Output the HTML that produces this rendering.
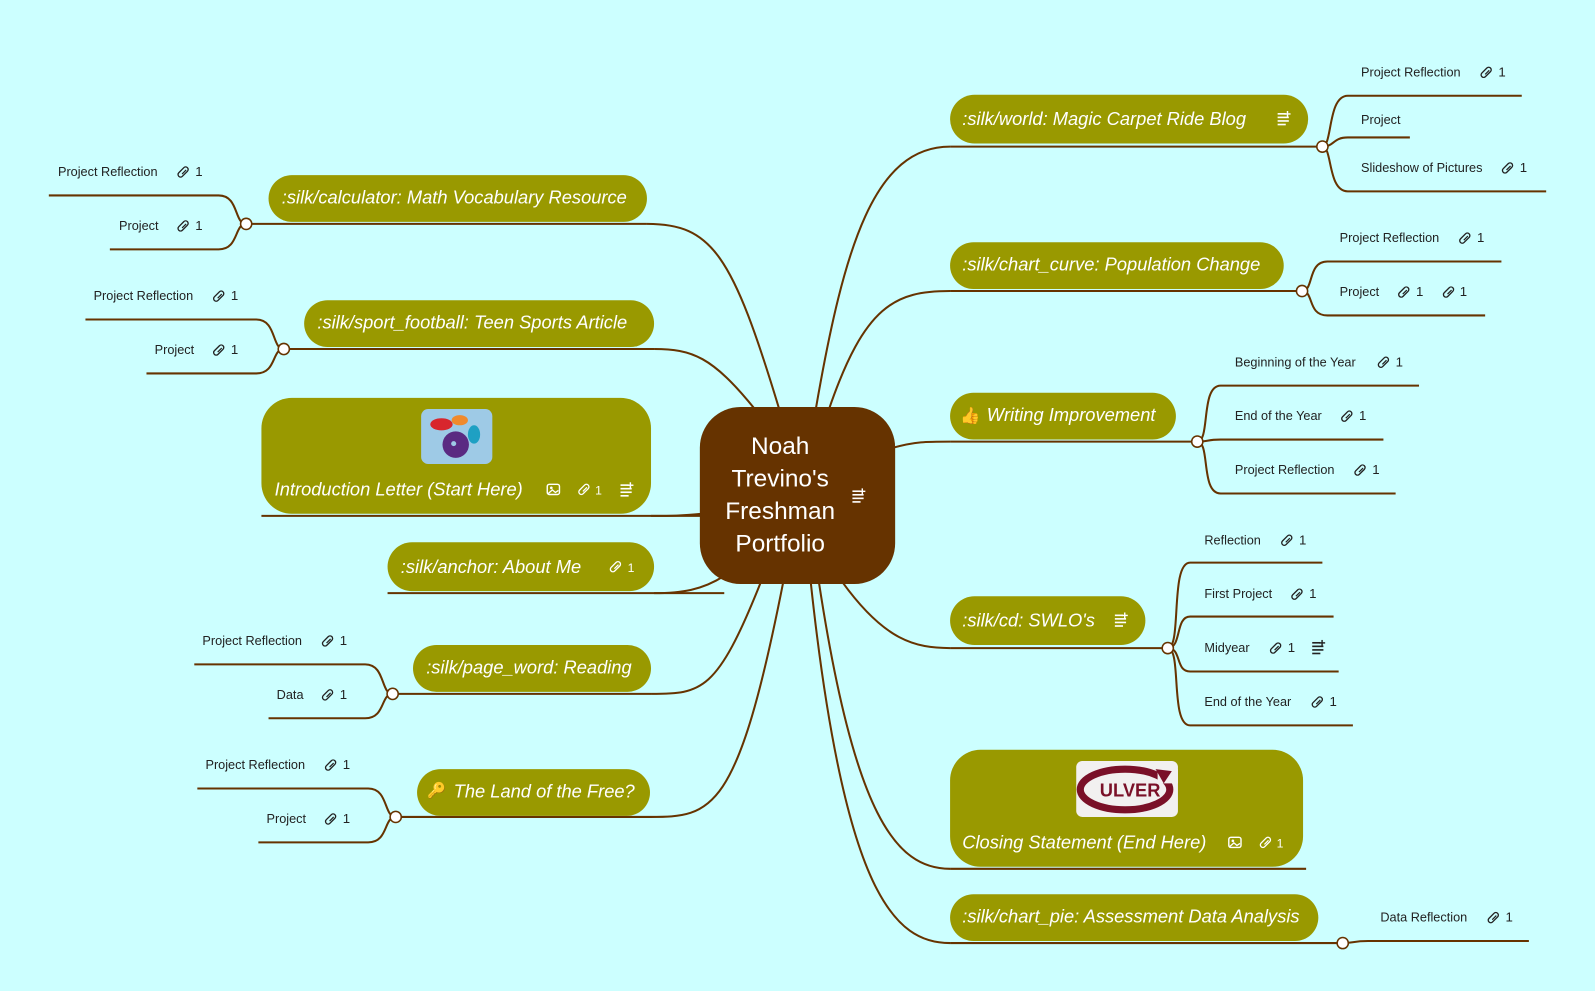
<!DOCTYPE html>
<html><head><meta charset="utf-8"><style>
html,body{margin:0;padding:0;background:#ccffff;}
svg{display:block}
.pt{font-family:"Liberation Sans",sans-serif;font-style:italic;font-size:18px;fill:#fff}
.ch{font-family:"Liberation Sans",sans-serif;font-size:12.5px;fill:#222}
.n{font-family:"Liberation Sans",sans-serif;font-size:13px;fill:#222}
.nw{font-family:"Liberation Sans",sans-serif;font-size:12px;fill:#fff}
.ln{stroke:#663300;stroke-width:2;fill:none}
.dot{fill:#fff;stroke:#663300;stroke-width:1.5}
</style></head><body>
<svg width="1595" height="991" viewBox="0 0 1568 974" xmlns="http://www.w3.org/2000/svg">
<defs>
<g id="clip"><rect x="-2.5" y="-6" width="5" height="12" rx="2.5" transform="rotate(45)" fill="none" stroke="#222" stroke-width="1.3"/><line x1="-1" y1="2" x2="3" y2="-2" stroke="#222" stroke-width="1.2"/></g>
<g id="clipw"><rect x="-2.5" y="-6" width="5" height="12" rx="2.5" transform="rotate(45)" fill="none" stroke="#fff" stroke-width="1.3"/><line x1="-1" y1="2" x2="3" y2="-2" stroke="#fff" stroke-width="1.2"/></g>
<g id="notes" fill="#fff"><rect x="0" y="0" width="8" height="1.6"/><rect x="0" y="3.5" width="11" height="1.6"/><rect x="0" y="7" width="11" height="1.6"/><rect x="0" y="10.5" width="8" height="1.6"/><rect x="9" y="-2" width="1.4" height="6"/><rect x="6.7" y="0.2" width="6" height="1.4"/></g>
<g id="imgi"><rect x="0" y="0" width="12" height="10" rx="2" fill="none" stroke="#fff" stroke-width="1.4"/><circle cx="4" cy="3.5" r="1.3" fill="#fff"/><path d="M1 9 L5 5.5 L8 8 L11 6" stroke="#fff" stroke-width="1.3" fill="none"/></g>
</defs>

<!-- center connectors -->
<path class="ln" d="M802,402 C830,240 860,144 934,144"/>
<path class="ln" d="M815,402 C850,300 880,286 934,286"/>
<path class="ln" d="M878,440 C900,434 910,434 934,434"/>
<path class="ln" d="M828,572 C870,630 900,637 934,637"/>
<path class="ln" d="M805,572 C840,800 880,854 934,854"/>
<path class="ln" d="M797,572 C830,880 880,927 934,927"/>
<path class="ln" d="M766,402 C720,250 700,220 636,220"/>
<path class="ln" d="M742,402 C700,350 680,343 643,343"/>
<path class="ln" d="M690,505 C670,507 660,507 640,507"/>
<path class="ln" d="M712,566 C690,580 670,583 643,583"/>
<path class="ln" d="M748,572 C705,680 690,682 640,682"/>
<path class="ln" d="M770,572 C725,800 700,803 639,803"/>

<!-- underlines -->
<path class="ln" d="M934,144 H1300 M934,286 H1280 M934,434 H1177 M934,637 H1148 M934,854 H1284 M934,927 H1320"/>
<path class="ln" d="M242,220 H636 M279,343 H643 M257,507 H690 M381,583 H712 M386,682 H640 M389,803 H639"/>

<!-- child connectors right -->
<path class="ln" d="M1300,144 C1310,144 1305,94 1325,94 H1496 M1300,144 C1312,144 1310,135 1325,135 H1386 M1300,144 C1310,144 1305,188 1325,188 H1520"/>
<path class="ln" d="M1280,286 C1292,286 1285,257 1305,257 H1476 M1280,286 C1292,286 1285,310 1305,310 H1460"/>
<path class="ln" d="M1177,434 C1190,434 1180,379 1200,379 H1395 M1177,434 C1190,434 1185,432 1200,432 H1360 M1177,434 C1190,434 1180,485 1200,485 H1372"/>
<path class="ln" d="M1148,637 C1162,637 1150,553 1170,553 H1300 M1148,637 C1162,637 1155,606 1170,606 H1311 M1148,637 C1162,637 1155,660 1170,660 H1316 M1148,637 C1162,637 1150,713 1170,713 H1330"/>
<path class="ln" d="M1320,927 C1330,927 1330,925 1345,925 H1503"/>
<!-- child connectors left -->
<path class="ln" d="M242,220 C230,220 235,192 215,192 H48 M242,220 C230,220 235,245 215,245 H108"/>
<path class="ln" d="M279,343 C267,343 272,314 252,314 H84 M279,343 C267,343 272,367 252,367 H144"/>
<path class="ln" d="M386,682 C374,682 379,653 359,653 H191 M386,682 C374,682 379,706 359,706 H264"/>
<path class="ln" d="M389,803 C377,803 382,775 362,775 H194 M389,803 C377,803 382,828 362,828 H254"/>

<circle class="dot" cx="1300" cy="144" r="5.5"/><circle class="dot" cx="1280" cy="286" r="5.5"/><circle class="dot" cx="1177" cy="434" r="5.5"/><circle class="dot" cx="1148" cy="637" r="5.5"/><circle class="dot" cx="1320" cy="927" r="5.5"/>
<circle class="dot" cx="242" cy="220" r="5.5"/><circle class="dot" cx="279" cy="343" r="5.5"/><circle class="dot" cx="386" cy="682" r="5.5"/><circle class="dot" cx="389" cy="803" r="5.5"/>

<!-- center node -->
<rect x="688" y="400" width="192" height="174" rx="40" fill="#663300"/>
<g font-family="Liberation Sans,sans-serif" font-size="24" fill="#fff" text-anchor="middle">
<text x="767" y="446">Noah</text><text x="767" y="478">Trevino's</text><text x="767" y="510">Freshman</text><text x="767" y="542">Portfolio</text></g>
<use href="#notes" x="838" y="482"/>

<!-- right pills -->
<rect x="934" y="93" width="352" height="48" rx="24" fill="#999900"/>
<text class="pt" x="946" y="123">:silk/world: Magic Carpet Ride Blog</text><use href="#notes" x="1256" y="111"/>
<rect x="934" y="238" width="328" height="46" rx="23" fill="#999900"/>
<text class="pt" x="946" y="266">:silk/chart_curve: Population Change</text>
<rect x="934" y="386" width="222" height="46" rx="23" fill="#999900"/>
<text x="944" y="414" font-size="16">👍</text><text class="pt" x="970" y="414">Writing Improvement</text>
<rect x="934" y="586" width="192" height="48" rx="24" fill="#999900"/>
<text class="pt" x="946" y="616">:silk/cd: SWLO's</text><use href="#notes" x="1096" y="604"/>
<rect x="934" y="737" width="347" height="115" rx="30" fill="#999900"/>
<rect x="1058" y="748" width="100" height="55" rx="6" fill="#f2f0f0"/>
<ellipse cx="1106" cy="776" rx="44" ry="20" fill="none" stroke="#7a1028" stroke-width="7"/>
<rect x="1138" y="756" width="20" height="14" fill="#f2f0f0"/>
<path d="M1136,756 L1152,758 L1144,770 Z" fill="#7a1028"/>
<text x="1111" y="783" text-anchor="middle" font-family="Liberation Sans,sans-serif" font-weight="bold" font-size="18" fill="#7a1028">ULVER</text>
<text class="pt" x="946" y="834">Closing Statement (End Here)</text><use href="#imgi" x="1208" y="823"/><use href="#clipw" x="1244" y="828"/><text class="nw" x="1255" y="833">1</text>
<rect x="934" y="879" width="362" height="46" rx="23" fill="#999900"/>
<text class="pt" x="946" y="907">:silk/chart_pie: Assessment Data Analysis</text>

<!-- left pills -->
<rect x="264" y="172" width="372" height="46" rx="23" fill="#999900"/>
<text class="pt" x="277" y="200">:silk/calculator: Math Vocabulary Resource</text>
<rect x="299" y="295" width="344" height="46" rx="23" fill="#999900"/>
<text class="pt" x="312" y="323">:silk/sport_football: Teen Sports Article</text>
<rect x="257" y="391" width="383" height="114" rx="30" fill="#999900"/>
<rect x="414" y="402" width="70" height="54" rx="7" fill="#9ecae6"/>
<circle cx="448" cy="437" r="13" fill="#5a2a82"/><circle cx="446" cy="436" r="2.5" fill="#9ecae6"/>
<ellipse cx="434" cy="417" rx="11" ry="6" fill="#d8262d"/><ellipse cx="452" cy="413" rx="8" ry="5" fill="#f08a2c"/><ellipse cx="466" cy="427" rx="6" ry="9" fill="#1ea0c3"/>
<text class="pt" x="270" y="487">Introduction Letter (Start Here)</text><use href="#imgi" x="538" y="476"/><use href="#clipw" x="574" y="481"/><text class="nw" x="585" y="486">1</text><use href="#notes" x="610" y="476"/>
<rect x="381" y="533" width="262" height="48" rx="24" fill="#999900"/>
<text class="pt" x="394" y="563">:silk/anchor: About Me</text><use href="#clipw" x="605" y="557"/><text class="nw" x="617" y="562">1</text>
<rect x="406" y="634" width="234" height="46" rx="23" fill="#999900"/>
<text class="pt" x="419" y="662">:silk/page_word: Reading</text>
<rect x="410" y="756" width="229" height="46" rx="23" fill="#999900"/>
<text x="420" y="782" font-size="15">🔑</text><text class="pt" x="446" y="784">The Land of the Free?</text>

<!-- right children -->
<g>
<text class="ch" x="1338" y="75">Project Reflection</text><use href="#clip" x="1461" y="71"/><text class="n" x="1473" y="75">1</text>
<text class="ch" x="1338" y="122">Project</text>
<text class="ch" x="1338" y="169">Slideshow of Pictures</text><use href="#clip" x="1482" y="165"/><text class="n" x="1494" y="169">1</text>
<text class="ch" x="1317" y="238">Project Reflection</text><use href="#clip" x="1440" y="234"/><text class="n" x="1452" y="238">1</text>
<text class="ch" x="1317" y="291">Project</text><use href="#clip" x="1380" y="287"/><text class="n" x="1392" y="291">1</text><use href="#clip" x="1424" y="287"/><text class="n" x="1435" y="291">1</text>
<text class="ch" x="1214" y="360">Beginning of the Year</text><use href="#clip" x="1360" y="356"/><text class="n" x="1372" y="360">1</text>
<text class="ch" x="1214" y="413">End of the Year</text><use href="#clip" x="1324" y="409"/><text class="n" x="1336" y="413">1</text>
<text class="ch" x="1214" y="466">Project Reflection</text><use href="#clip" x="1337" y="462"/><text class="n" x="1349" y="466">1</text>
<text class="ch" x="1184" y="535">Reflection</text><use href="#clip" x="1265" y="531"/><text class="n" x="1277" y="535">1</text>
<text class="ch" x="1184" y="588">First Project</text><use href="#clip" x="1275" y="584"/><text class="n" x="1287" y="588">1</text>
<text class="ch" x="1184" y="641">Midyear</text><use href="#clip" x="1254" y="637"/><text class="n" x="1266" y="641">1</text>
<g transform="translate(1290,631)"><g fill="#222"><rect x="0" y="0" width="8" height="1.6"/><rect x="0" y="3.5" width="11" height="1.6"/><rect x="0" y="7" width="11" height="1.6"/><rect x="0" y="10.5" width="8" height="1.6"/><rect x="9" y="-2" width="1.4" height="6"/><rect x="6.7" y="0.2" width="6" height="1.4"/></g></g>
<text class="ch" x="1184" y="694">End of the Year</text><use href="#clip" x="1295" y="690"/><text class="n" x="1307" y="694">1</text>
<text class="ch" x="1357" y="906">Data Reflection</text><use href="#clip" x="1468" y="902"/><text class="n" x="1480" y="906">1</text>
</g>
<!-- left children -->
<g>
<text class="ch" x="57" y="173">Project Reflection</text><use href="#clip" x="180" y="169"/><text class="n" x="192" y="173">1</text>
<text class="ch" x="117" y="226">Project</text><use href="#clip" x="180" y="222"/><text class="n" x="192" y="226">1</text>
<text class="ch" x="92" y="295">Project Reflection</text><use href="#clip" x="215" y="291"/><text class="n" x="227" y="295">1</text>
<text class="ch" x="152" y="348">Project</text><use href="#clip" x="215" y="344"/><text class="n" x="227" y="348">1</text>
<text class="ch" x="199" y="634">Project Reflection</text><use href="#clip" x="322" y="630"/><text class="n" x="334" y="634">1</text>
<text class="ch" x="272" y="687">Data</text><use href="#clip" x="322" y="683"/><text class="n" x="334" y="687">1</text>
<text class="ch" x="202" y="756">Project Reflection</text><use href="#clip" x="325" y="752"/><text class="n" x="337" y="756">1</text>
<text class="ch" x="262" y="809">Project</text><use href="#clip" x="325" y="805"/><text class="n" x="337" y="809">1</text>
</g>
</svg>
</body></html>
